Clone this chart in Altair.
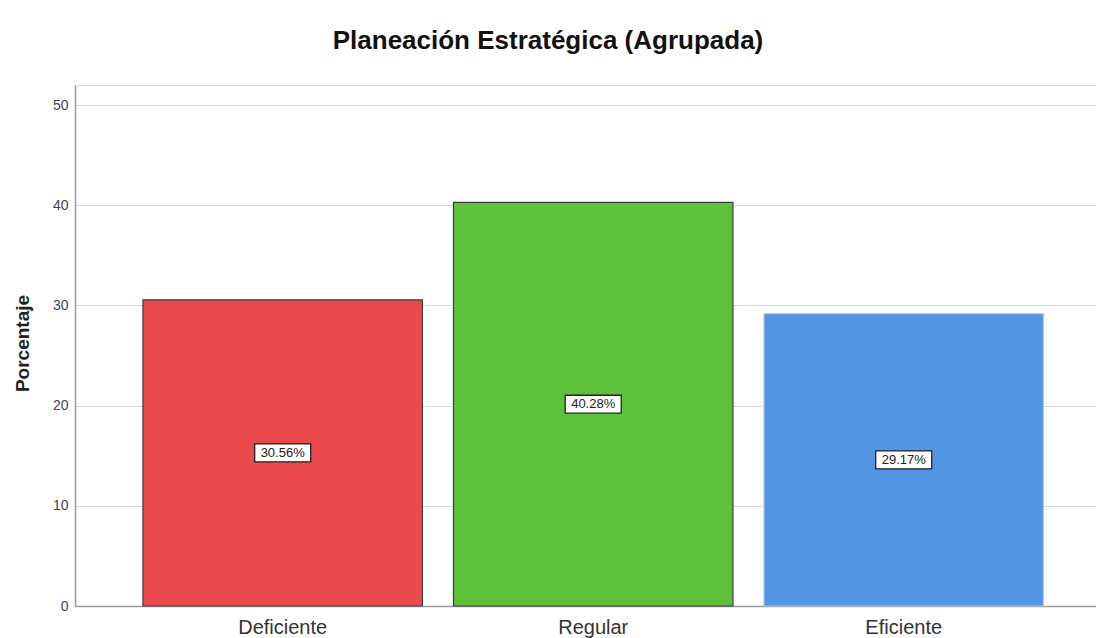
import altair as alt
import pandas as pd

# Grouped strategic-planning levels and their share of respondents (%)
categories = ["Deficiente", "Regular", "Eficiente"]
percentages = [30.56, 40.28, 29.17]
fill_colors = ["#EB4A4C", "#5EC13B", "#5495E3"]
edge_colors = ["#3c3c3c", "#3c3c3c", "#a8c8f2"]
y_ticks = [0, 10, 20, 30, 40, 50]

df = pd.DataFrame({
    "nivel": categories,
    "pct": percentages,
})
df["mid"] = df["pct"] / 2
df["etiqueta"] = df["pct"].map(lambda v: f"{v:.2f}%")

x_scale = alt.Scale(paddingInner=0.1, paddingOuter=0.194, align=0.564)
y_scale = alt.Scale(domain=[0, 52], nice=False)

x_axis = alt.Axis(
    labelAngle=0,
    labelFont="Liberation Sans",
    labelFontSize=20,
    labelColor="#333333",
    labelBaseline="alphabetic",
    labelPadding=27,
    ticks=False,
    tickSize=0,
    domainColor="#9a9a9a",
    domainWidth=1.5,
    grid=False,
)

y_axis = alt.Axis(
    values=y_ticks,
    labelFont="Liberation Sans",
    labelFontSize=14,
    labelColor="#444444",
    labelPadding=7,
    ticks=False,
    tickSize=0,
    domainColor="#9a9a9a",
    domainWidth=1.5,
    gridColor="#d9d9d9",
    gridWidth=1.2,
    titleFont="Liberation Sans",
    titleFontSize=19,
    titleFontWeight="bold",
    titleColor="#222222",
    titleAngle=270,
    titleAlign="center",
    titleBaseline="alphabetic",
    titleX=-47,
    titleY=258,
)

bars = alt.Chart(df).mark_bar(strokeWidth=1.2).encode(
    x=alt.X("nivel:N", sort=categories, title=None, scale=x_scale, axis=x_axis),
    y=alt.Y("pct:Q", scale=y_scale, title="Porcentaje", axis=y_axis),
    fill=alt.Color("nivel:N", scale=alt.Scale(domain=categories, range=fill_colors), legend=None),
    stroke=alt.Stroke("nivel:N", scale=alt.Scale(domain=categories, range=edge_colors), legend=None),
)

# White label boxes centred at half the bar height
boxes = alt.Chart(df).mark_point(
    shape="M-1,-0.32L1,-0.32L1,0.32L-1,0.32Z",
    size=3136,
    filled=True,
    fill="white",
    stroke="#222222",
    strokeWidth=1.3,
    opacity=1,
).encode(
    x=alt.X("nivel:N", sort=categories, title=None, axis=x_axis),
    y=alt.Y("mid:Q", scale=y_scale, title="Porcentaje", axis=y_axis),
)

texts = alt.Chart(df).mark_text(
    font="Liberation Sans",
    fontSize=13,
    color="#222222",
    baseline="middle",
    align="center",
).encode(
    x=alt.X("nivel:N", sort=categories, title=None, axis=x_axis),
    y=alt.Y("mid:Q", scale=y_scale, title="Porcentaje", axis=y_axis),
    text="etiqueta:N",
)

chart = (
    alt.layer(bars, boxes, texts)
    .properties(
        width=1021,
        height=521,
        autosize=alt.AutoSizeParams(type="none"),
        padding={"left": 75, "top": 85, "right": 0, "bottom": 32},
        title=alt.TitleParams(
            "Planeación Estratégica (Agrupada)",
            font="Liberation Sans",
            fontSize=26,
            fontWeight="bold",
            color="#111111",
            anchor="middle",
            baseline="alphabetic",
            offset=10,
            dx=-37.5,
        ),
    )
    .configure_view(strokeWidth=0)
    .configure(background="white")
)

chart.save("out.html", embed_options={"renderer": "svg", "actions": False})
